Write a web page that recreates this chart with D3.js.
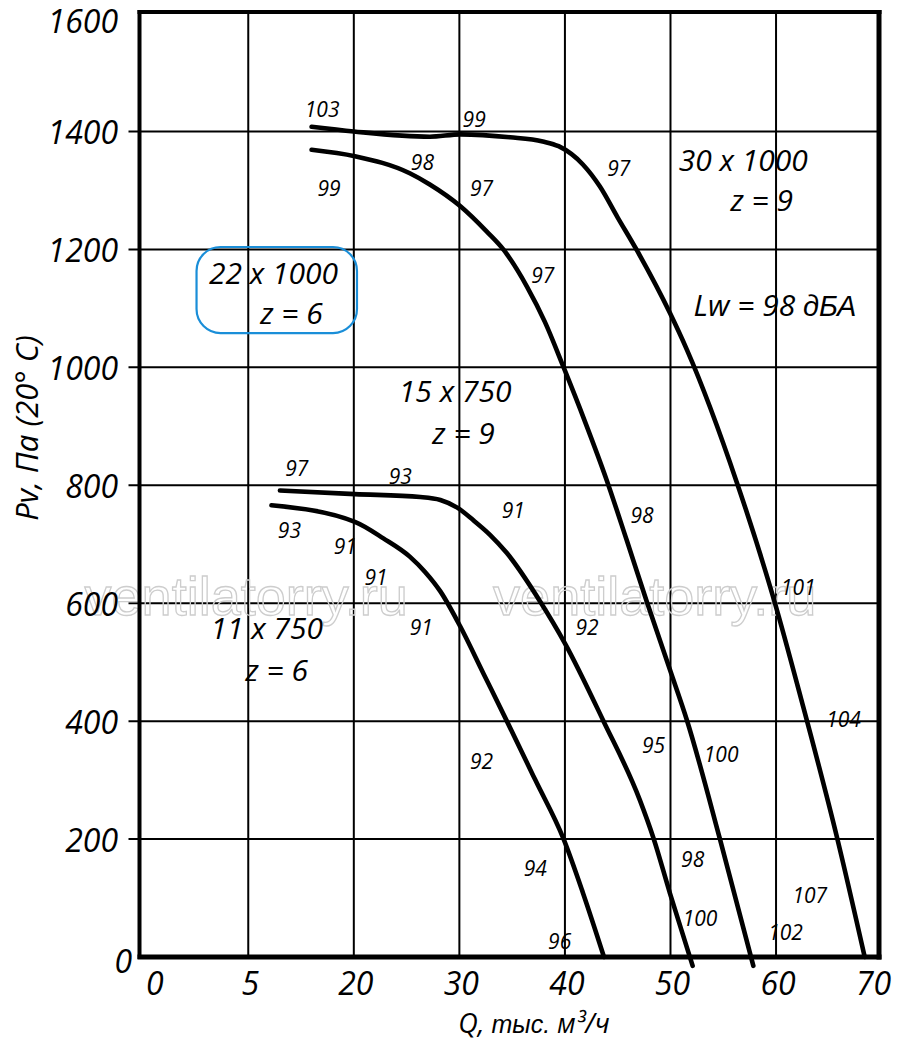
<!DOCTYPE html>
<html>
<head>
<meta charset="utf-8">
<script src="https://cdn.jsdelivr.net/npm/d3@7/dist/d3.min.js"></script>
<style>
  html, body { margin: 0; padding: 0; background: #fff; }
  svg { display: block; }
  text { font-family: "Open Sans", "DejaVu Sans", sans-serif; font-style: italic; fill: #000; }
  .cyr { font-family: "Liberation Sans", Arial, sans-serif; font-style: italic; }
</style>
</head>
<body>
<svg id="chart" width="900" height="1043"></svg>
<script>
// ---------- DATA ----------
const xTickValues = [0, 10, 20, 30, 40, 50, 60, 70];
const xTickLabels = ["0", "5", "20", "30", "40", "50", "60", "70"];
const yTickValues = [0, 200, 400, 600, 800, 1000, 1200, 1400, 1600];
const yTickLabels = ["0", "200", "400", "600", "800", "1000", "1200", "1400", "1600"];

// fan curves: [Q (thousand m3/h), Pv (Pa)]
const curve11x750 = [[12.2,766],[20.1,738],[22.8,710],[25.3,679],[26.75,653],[28.2,620],[30.1,560],[32.3,480],[34.5,400],[37.2,300],[39.85,201],[41.7,109],[43.7,0]];
const curve15x750 = [[13.0,791],[20.1,785],[26.3,780],[28.2,775],[29.8,762],[31.3,741],[32.9,716],[34.5,685],[37.65,603],[40.0,532],[43.6,402],[47.1,266],[48.4,201],[49.95,108],[52.1,-15]];
const curve22x1000 = [[16.0,1369],[20.1,1358],[25.3,1329],[27.2,1310],[30.1,1273],[32.6,1230],[34.2,1199],[36.4,1137],[38.1,1077],[39.85,1001],[41.9,908],[43.95,809],[45.85,707],[47.75,603],[49.95,487],[51.55,402],[54.7,199],[57.85,-15]];
const curve30x1000 = [[16.0,1408],[20.0,1400],[27.2,1391],[30.1,1395],[34.8,1390],[37.9,1383],[39.4,1375],[41.7,1344],[43.3,1307],[45.0,1254],[46.8,1199],[49.95,1092],[51.55,1030],[56.3,804],[59.8,606],[62.4,436],[65.8,201],[68.4,0]];

// noise level labels along the curves: [text, Q, Pv]
const noiseLabels = [
  ["103",17.0,1437],["99",31.4,1421],["98",26.5,1347],["99",17.65,1303],["97",32.1,1303],
  ["97",37.9,1156],["97",45.1,1338],["91",35.1,757],["93",24.4,815],["97",14.6,829],
  ["93",13.9,723],["91",19.2,696],["91",22.1,643],["91",26.4,559],["92",42.1,559],
  ["98",47.3,749],["101",62.1,626],["92",32.1,332],["95",48.4,358],["100",54.8,343],
  ["104",66.4,403],["94",37.2,150],["98",52.1,165],["107",63.2,105],["100",52.8,66],
  ["102",60.9,42],["96",39.5,26]
];

// fan model labels: [text, Q, Pv]
const modelLabels = [
  ["30 x 1000",56.9,1352],["z = 9",58.65,1284],
  ["22 x 1000",12.4,1160],["z = 6",14.1,1092],
  ["15 x 750",29.6,959],["z = 9",30.4,888],
  ["11 x 750",11.75,558],["z = 6",12.7,486]
];
const soundLabel = { latin: "Lw = 98 ", cyr: "дБА", q: 59.9, pv: 1106 };
// highlighted model box: [Q0, Q1, Pv0, Pv1]
const highlightBox = [5.1, 20.3, 1058, 1204];

const xTitleParts = [["Q, ", false], ["тыс.", true], [" м³/ч", false]];
const yTitle = "Pv, Па (20° C)";
const watermark = "ventilatorry.ru";
const watermarkQ = [9.8, 48.5];
const watermarkPv = 580;

// ---------- DRAW ----------
const svg = d3.select("#chart");
const frame = { left: 139.5, right: 879, top: 12, bottom: 957 };
const x = d3.scaleLinear().domain([0, 70]).range([142.7, 881.6]);
const y = d3.scaleLinear().domain([0, 1600]).range([957, 13.5]);

// grid
const grid = svg.append("g");
grid.selectAll("line.v").data(xTickValues.slice(1, -1)).join("line")
  .attr("x1", d => x(d)).attr("x2", d => x(d))
  .attr("y1", frame.top).attr("y2", frame.bottom)
  .attr("stroke", "#000").attr("stroke-width", 2);
grid.selectAll("line.h").data(yTickValues.slice(1, -1)).join("line")
  .attr("x1", frame.left - 11).attr("x2", d => d === 200 ? frame.right - 5 : frame.right)
  .attr("y1", d => y(d)).attr("y2", d => y(d))
  .attr("stroke", "#000").attr("stroke-width", 2);

// watermark
svg.append("g").selectAll("text").data(watermarkQ).join("text")
  .attr("x", d => x(d)).attr("y", y(watermarkPv))
  .attr("text-anchor", "middle")
  .style("font-family", "'Liberation Sans', Arial, sans-serif")
  .style("font-style", "normal")
  .style("font-size", "54px")
  .style("fill", "none")
  .attr("stroke", "#cdcdcd").attr("stroke-width", 1.3)
  .text(watermark);

// frame
const fr = svg.append("g").attr("stroke", "#000").attr("fill", "none");
fr.append("line").attr("x1", frame.left).attr("x2", frame.left).attr("y1", frame.top - 2).attr("y2", frame.bottom + 2).attr("stroke-width", 4);
fr.append("line").attr("x1", frame.right).attr("x2", frame.right).attr("y1", frame.top - 2).attr("y2", frame.bottom + 2.5).attr("stroke-width", 5);
fr.append("line").attr("x1", frame.left - 2).attr("x2", frame.right + 2.5).attr("y1", frame.top).attr("y2", frame.top).attr("stroke-width", 4);
fr.append("line").attr("x1", frame.left - 2).attr("x2", frame.right + 2.5).attr("y1", frame.bottom).attr("y2", frame.bottom).attr("stroke-width", 5);

// curves
const line = d3.line().x(d => x(d[0])).y(d => y(d[1])).curve(d3.curveMonotoneX);
svg.append("g").selectAll("path").data([curve11x750, curve15x750, curve22x1000, curve30x1000]).join("path")
  .attr("d", line).attr("fill", "none").attr("stroke", "#000")
  .attr("stroke-width", 4.6).attr("stroke-linecap", "round").attr("stroke-linejoin", "round");

// axis tick labels
svg.append("g").selectAll("text").data(xTickValues).join("text")
  .attr("x", (d, i) => x(d) + (i === 0 ? 12 : (i === xTickValues.length - 1 ? -8 : 2)))
  .attr("y", 995)
  .attr("text-anchor", "middle").style("font-size", "32px")
  .text((d, i) => xTickLabels[i]);
svg.append("g").selectAll("text").data(yTickValues).join("text")
  .attr("x", (d, i) => i === 0 ? 132 : 118)
  .attr("y", (d, i) => y(d) + (i === 0 ? 16 : (i === yTickValues.length - 1 ? 19 : 12.5)))
  .attr("text-anchor", "end").style("font-size", "32px")
  .text((d, i) => yTickLabels[i]);

// axis titles
const xt = svg.append("text").attr("x", 534).attr("y", 1033).attr("text-anchor", "middle")
  .style("font-size", "27px");
xt.selectAll("tspan").data(xTitleParts).join("tspan")
  .attr("class", d => d[1] ? "cyr" : null)
  .style("font-size", d => d[1] ? "25px" : null)
  .text(d => d[0]);
svg.append("text").attr("transform", "translate(38,428) rotate(-90)").attr("text-anchor", "middle")
  .style("font-size", "31px").text(yTitle);

// highlight box
svg.append("rect")
  .attr("x", x(highlightBox[0])).attr("y", y(highlightBox[3]))
  .attr("width", x(highlightBox[1]) - x(highlightBox[0]))
  .attr("height", y(highlightBox[2]) - y(highlightBox[3]))
  .attr("rx", 24).attr("ry", 24)
  .attr("fill", "none").attr("stroke", "#1a8ed8").attr("stroke-width", 2.2);

// noise labels
svg.append("g").selectAll("text").data(noiseLabels).join("text")
  .attr("x", d => x(d[1])).attr("y", d => y(d[2]))
  .attr("dy", "0.36em").attr("text-anchor", "middle")
  .style("font-size", "21px").text(d => d[0]);

// model labels
svg.append("g").selectAll("text").data(modelLabels).join("text")
  .attr("x", d => x(d[1])).attr("y", d => y(d[2]))
  .attr("dy", "0.36em").attr("text-anchor", "middle")
  .style("font-size", "30px").text(d => d[0]);

const sl = svg.append("text").attr("x", x(soundLabel.q)).attr("y", y(soundLabel.pv))
  .attr("dy", "0.36em").attr("text-anchor", "middle").style("font-size", "30px");
sl.append("tspan").text(soundLabel.latin);
sl.append("tspan").attr("class", "cyr").style("font-size", "29px").text(soundLabel.cyr);
</script>
</body>
</html>
